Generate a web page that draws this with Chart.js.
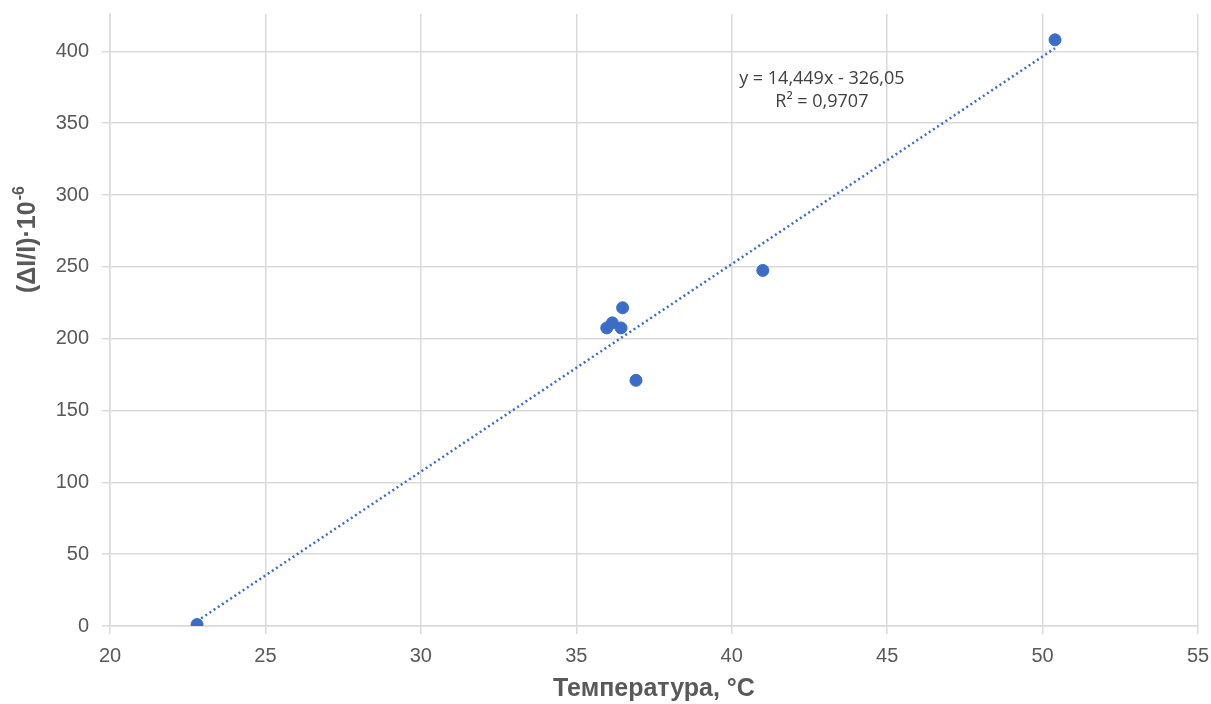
<!DOCTYPE html>
<html>
<head>
<meta charset="utf-8">
<script src="https://cdn.jsdelivr.net/npm/chart.js@4/dist/chart.umd.min.js"></script>
<style>
html,body{margin:0;padding:0;background:#fff;}
#wrap{width:1211px;height:704px;position:relative;}
</style>
</head>
<body>
<div id="wrap"><canvas id="c" width="1211" height="704"></canvas></div>
<script>
// Measured points: temperature (°C) and (ΔI/I)·10^-6
const temperature = [22.8, 35.98, 36.16, 36.44, 36.49, 36.92, 41.0, 50.4];
const strain = [1, 207.5, 211, 207.5, 221.5, 171, 247.5, 408];
// Trendline endpoints as shown in picture
const trendX = [22.8, 50.4];
const trendY = [3.4, 402.2];
const xTicks = [20, 25, 30, 35, 40, 45, 50, 55];
const yTicks = [0, 50, 100, 150, 200, 250, 300, 350, 400];
const eqLines = ['y = 14,449x - 326,05', 'R² = 0,9707'];
const eqAnchor = {x: 42.9, y: 381};
const xTitle = 'Температура, °C';
const yTitleMain = '(ΔI/I)·10';
const yTitleSup = '-6';

const blue = '#3b6cc7';
const gridColor = '#dadada';
const textColor = '#595959';

const annotationPlugin = {
  id: 'annot',
  afterDatasetsDraw(chart) {
    const ctx = chart.ctx;
    const xs = chart.scales.x, ys = chart.scales.y;
    const cx = xs.getPixelForValue(eqAnchor.x);
    const cy = ys.getPixelForValue(eqAnchor.y);
    ctx.save();
    ctx.fillStyle = '#404040';
    ctx.font = '18px "Open Sans"';
    ctx.textAlign = 'center';
    ctx.textBaseline = 'middle';
    eqLines.forEach((t, i) => ctx.fillText(t, cx, cy + i * 23));
    ctx.restore();

    // rotated y-axis title
    ctx.save();
    ctx.fillStyle = textColor;
    const mainFont = 'bold 25px "Liberation Sans", Arial, sans-serif';
    const supFont = 'bold 16px "Liberation Sans", Arial, sans-serif';
    ctx.font = mainFont;
    const wMain = ctx.measureText(yTitleMain).width;
    ctx.font = supFont;
    const wSup = ctx.measureText(yTitleSup).width;
    const total = wMain + wSup + 1;
    const midY = ys.getPixelForValue(269);
    ctx.translate(28, midY);
    ctx.rotate(-Math.PI / 2);
    ctx.textBaseline = 'middle';
    ctx.textAlign = 'left';
    ctx.font = mainFont;
    ctx.fillText(yTitleMain, -total / 2, 0);
    ctx.font = supFont;
    ctx.fillText(yTitleSup, -total / 2 + wMain + 1, -8);
    ctx.restore();
  }
};

new Chart(document.getElementById('c'), {
  type: 'scatter',
  data: {
    datasets: [
      {
        type: 'scatter',
        data: temperature.map((t, i) => ({x: t, y: strain[i]})),
        backgroundColor: blue,
        borderColor: blue,
        pointRadius: 6,
        pointHoverRadius: 6,
        order: 1
      },
      {
        type: 'line',
        data: trendX.map((t, i) => ({x: t, y: trendY[i]})),
        borderColor: blue,
        borderWidth: 2.5,
        borderDash: [2, 3],
        pointRadius: 0,
        fill: false,
        order: 2
      }
    ]
  },
  options: {
    responsive: false,
    animation: false,
    layout: {padding: {top: 14, right: 13, left: 0, bottom: 0}},
    plugins: {legend: {display: false}, tooltip: {enabled: false}},
    scales: {
      x: {
        type: 'linear',
        min: 20, max: 55,
        afterBuildTicks(scale) { scale.ticks = xTicks.map(v => ({value: v})); },
        afterFit(scale) { scale.height = 78; scale.paddingLeft = 0; scale.paddingRight = 0; },
        ticks: {
          color: textColor,
          font: {family: '"Liberation Sans", Arial, sans-serif', size: 20},
          padding: 10,
          callback: v => String(v)
        },
        grid: {color: gridColor, lineWidth: 1.5, tickLength: 8, tickColor: gridColor},
        border: {color: gridColor, width: 1.5},
        title: {
          display: true,
          text: xTitle,
          color: textColor,
          font: {family: '"Liberation Sans", Arial, sans-serif', size: 25, weight: 'bold'},
          padding: {top: 4, bottom: 0}
        }
      },
      y: {
        type: 'linear',
        min: 0, max: 426,
        afterBuildTicks(scale) { scale.ticks = yTicks.map(v => ({value: v})); },
        afterFit(scale) { scale.width = 110; scale.paddingTop = 0; scale.paddingBottom = 0; },
        ticks: {
          color: textColor,
          font: {family: '"Liberation Sans", Arial, sans-serif', size: 20},
          padding: 13,
          callback: v => String(v)
        },
        grid: {color: gridColor, lineWidth: 1.5, tickLength: 8, tickColor: gridColor},
        border: {color: gridColor, width: 1.5}
      }
    }
  },
  plugins: [annotationPlugin]
});
</script>
</body>
</html>
